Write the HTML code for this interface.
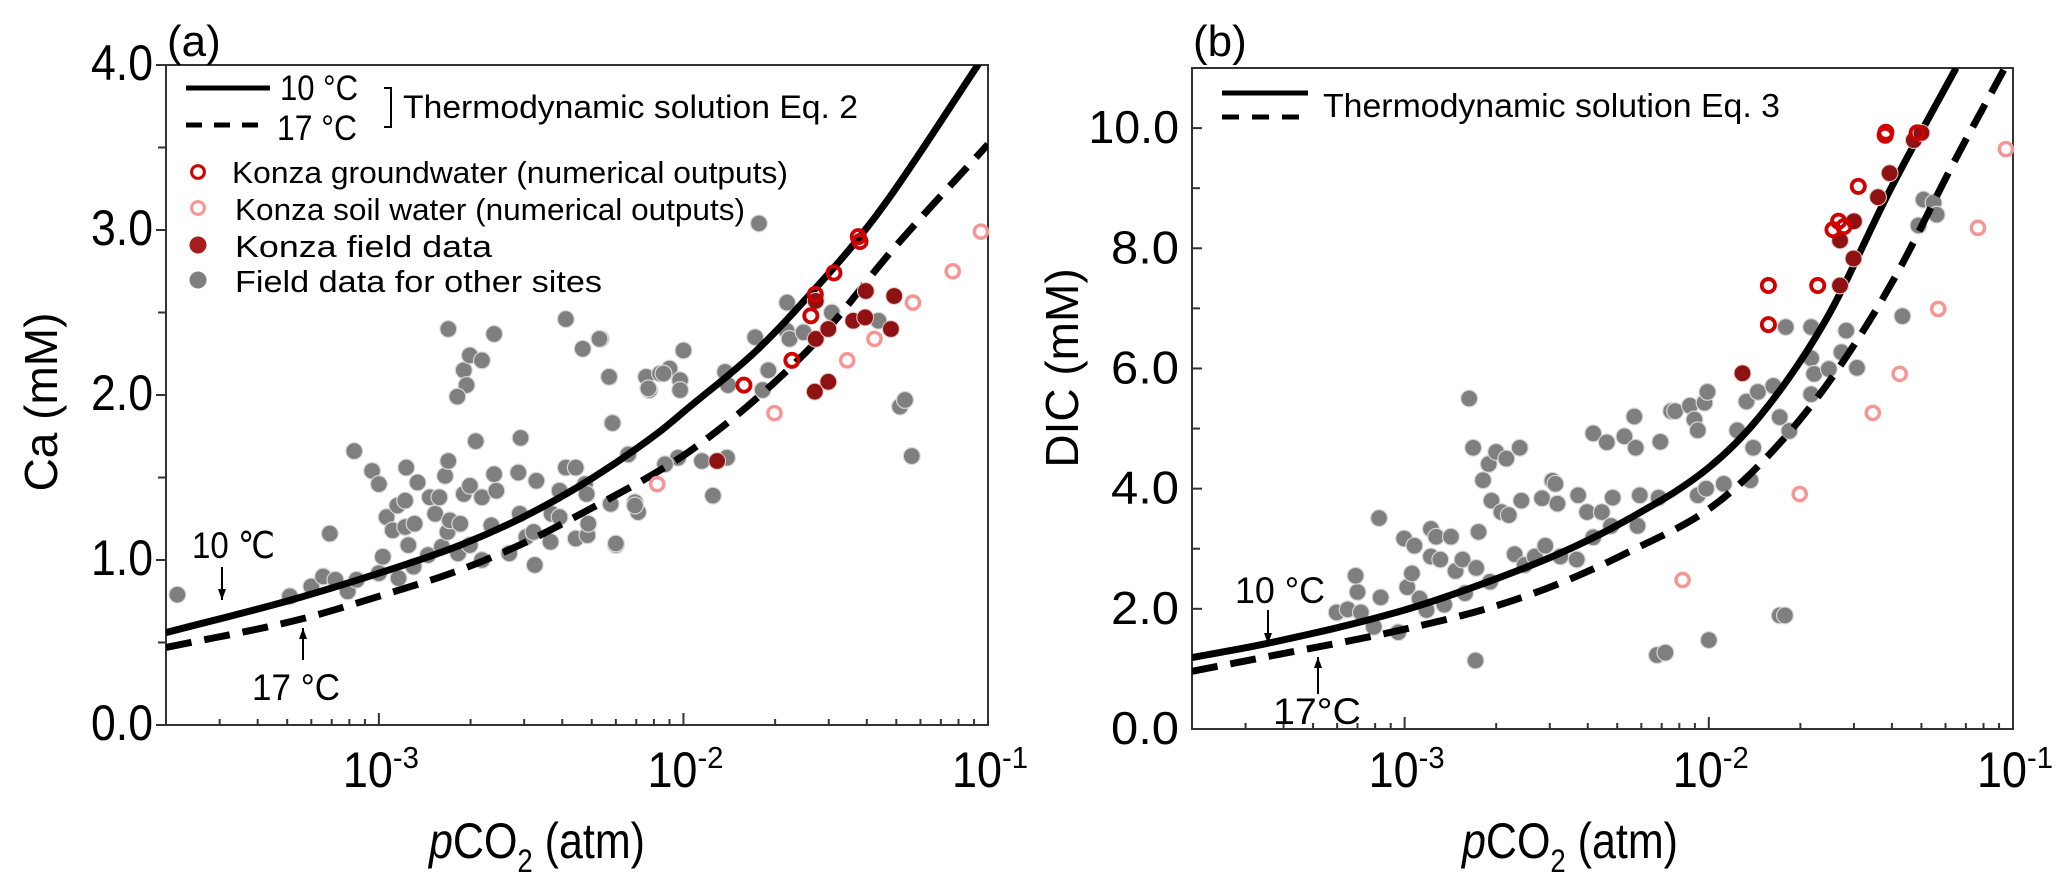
<!DOCTYPE html>
<html><head><meta charset="utf-8"><style>
html,body{margin:0;padding:0;background:#fff}
svg{display:block;font-family:"Liberation Sans",Arial,sans-serif}
</style></head><body>
<svg id="fig" width="2067" height="877" viewBox="0 0 2067 877" xmlns="http://www.w3.org/2000/svg">
<defs>
<clipPath id="clipA"><rect x="166" y="65" width="822" height="660"/></clipPath>
<clipPath id="clipB"><rect x="1192" y="68" width="821" height="661"/></clipPath>
</defs>
<g id="panelA"></g>
<g id="panelB"></g>
</svg>
<script>
// ---------- Panel (a) data ----------
const aCurve10P  = [2.0e-4,5.2e-4,1e-3,1.85e-3,3.05e-3,5.06e-3,8.38e-3,1.05e-2,1.74e-2,2.88e-2,3.8e-2,4.76e-2,9.5e-2];
const aCurve10Ca = [0.56,0.76,0.92,1.09,1.27,1.50,1.78,1.93,2.27,2.70,2.96,3.20,4.03];
const aCurve17P  = [2.0e-4,5.5e-4,1e-3,1.85e-3,3.05e-3,5.06e-3,7.96e-3,1.05e-2,1.74e-2,2.88e-2,4.76e-2,0.1];
const aCurve17Ca = [0.47,0.64,0.78,0.94,1.11,1.32,1.52,1.66,1.98,2.37,2.86,3.52];
const aGreyP  = [2.18e-4,5.1e-4,6.0e-4,6.56e-4,7.2e-4,6.9e-4,7.9e-4,8.45e-4,8.3e-4,9.5e-4,1e-3,1.0e-3,1.03e-3,1.06e-3,1.11e-3,1.15e-3,1.16e-3,1.22e-3,1.23e-3,1.25e-3,1.22e-3,1.30e-3,1.31e-3,1.34e-3,1.45e-3,1.47e-3,1.53e-3,1.58e-3,1.61e-3,1.65e-3,1.69e-3,1.69e-3,1.68e-3,1.71e-3,1.82e-3,1.85e-3,1.90e-3,1.99e-3,1.94e-3,1.81e-3,2.18e-3,2.39e-3,1.90e-3,1.99e-3,2.08e-3,1.99e-3,2.18e-3,2.18e-3,2.34e-3,2.39e-3,2.43e-3,2.68e-3,2.87e-3,2.92e-3,2.90e-3,3.05e-3,3.25e-3,3.29e-3,3.22e-3,3.66e-3,3.69e-3,3.92e-3,3.92e-3,4.11e-3,4.11e-3,4.43e-3,4.43e-3,4.67e-3,4.75e-3,4.81e-3,4.84e-3,4.87e-3,5.35e-3,5.71e-3,5.84e-3,5.77e-3,6.0e-3,6.59e-3,6.93e-3,7.1e-3,7.54e-3,7.73e-3,8.38e-3,1.77e-2,2.19e-2,1.72e-2,2.18e-2,2.23e-2,2.48e-2,3.07e-2,4.37e-2,5.14e-2,5.34e-2,5.62e-2,5.3e-3,1.0e-2,9.0e-3,8.6e-3,9.75e-3,7.67e-3,9.75e-3,5.7e-3,5.85e-3,6.59e-3,1.37e-2,1.40e-2,1.90e-2,1.82e-2,9.6e-3,1.15e-2,1.39e-2,1.25e-2,6.93e-3,6.0e-3,8.7e-3];
const aGreyCa = [0.79,0.78,0.84,0.90,0.88,1.16,0.81,0.88,1.66,1.54,1.46,0.92,1.02,1.26,1.18,1.33,0.89,1.20,1.56,1.09,1.36,0.96,1.22,1.47,1.03,1.38,1.28,1.38,1.08,1.51,1.60,2.40,1.17,1.24,1.04,1.22,2.15,2.24,2.06,1.99,2.21,2.37,1.40,1.45,1.72,1.09,1.38,1.00,1.21,1.52,1.42,1.04,1.53,1.74,1.28,1.14,0.97,1.48,1.17,1.11,1.28,1.26,1.42,2.46,1.56,1.56,1.13,2.28,1.46,1.40,1.15,1.22,2.34,2.11,1.83,1.34,1.09,1.64,1.35,1.29,2.11,2.03,2.13,3.04,2.56,2.35,2.39,2.34,2.38,2.50,2.45,1.93,1.97,1.63,2.34,2.27,2.16,2.13,2.09,2.04,2.03,2.11,1.83,1.64,2.14,2.06,2.15,2.03,1.62,1.60,1.62,1.39,1.33,1.10,1.58];
const aGwP  = [1.58e-2,2.27e-2,2.62e-2,2.71e-2,3.12e-2,3.75e-2,3.80e-2];
const aGwCa = [2.06,2.21,2.48,2.61,2.74,2.96,2.93];
const aSoilP  = [8.2e-3,1.99e-2,3.45e-2,4.24e-2,5.67e-2,7.66e-2,9.48e-2];
const aSoilCa = [1.46,1.89,2.21,2.34,2.56,2.75,2.99];
const aFieldP  = [1.29e-2,2.7e-2,2.99e-2,2.72e-2,2.99e-2,3.61e-2,3.95e-2,3.97e-2,4.8e-2,4.92e-2,2.72e-2];
const aFieldCa = [1.60,2.02,2.08,2.34,2.40,2.45,2.47,2.63,2.40,2.60,2.57];
const aYTicks = [0,1,2,3,4];
const aYLabels = ["0.0","1.0","2.0","3.0","4.0"];

// ---------- Panel (b) data ----------
const bCurve10P   = [2.0e-4,3.5e-4,1e-3,2.0e-3,3.33e-3,5.47e-3,1e-2,1.47e-2,2.42e-2,3.97e-2,6.5e-2];
const bCurve10DIC = [1.19,1.42,1.98,2.5,2.95,3.5,4.35,5.2,6.8,9.0,11.0];
const bCurve17P   = [2.0e-4,3.5e-4,1e-3,2.0e-3,3.33e-3,5.47e-3,1e-2,1.47e-2,2.42e-2,3.97e-2,6.5e-2,9.4e-2];
const bCurve17DIC = [0.96,1.2,1.66,2.05,2.45,2.95,3.66,4.4,5.7,7.4,9.5,11.0];
const bGreyP   = [5.98e-4,6.5e-4,7.0e-4,7.18e-4,6.9e-4,7.92e-4,8.34e-4,8.24e-4,9.53e-4,9.96e-4,1.02e-3,1.057e-3,1.077e-3,1.12e-3,1.18e-3,1.22e-3,1.22e-3,1.27e-3,1.31e-3,1.35e-3,1.42e-3,1.47e-3,1.55e-3,1.58e-3,1.63e-3,1.68e-3,1.71e-3,1.72e-3,1.75e-3,1.81e-3,1.89e-3,1.91e-3,1.93e-3,2.0e-3,2.08e-3,2.16e-3,2.20e-3,2.30e-3,2.39e-3,2.42e-3,2.48e-3,2.68e-3,2.83e-3,2.90e-3,3.06e-3,3.13e-3,3.18e-3,3.25e-3,3.68e-3,3.72e-3,3.98e-3,4.17e-3,4.17e-3,4.45e-3,4.62e-3,4.77e-3,4.83e-3,5.28e-3,5.69e-3,5.75e-3,5.83e-3,5.93e-3,6.84e-3,6.93e-3,7.52e-3,7.75e-3,8.67e-3,8.97e-3,9.2e-3,9.2e-3,9.68e-3,9.9e-3,9.8e-3,1.0e-2,6.75e-3,7.2e-3,1.12e-2,1.24e-2,1.33e-2,1.37e-2,1.40e-2,1.45e-2,1.63e-2,1.71e-2,1.71e-2,1.78e-2,1.79e-2,1.84e-2,2.17e-2,2.17e-2,2.17e-2,2.22e-2,2.48e-2,2.83e-2,2.73e-2,3.07e-2,4.33e-2,4.89e-2,5.08e-2,5.48e-2,5.61e-2];
const bGreyDIC = [1.94,1.99,2.28,1.94,2.55,1.70,2.19,3.51,1.61,3.17,2.36,2.59,3.05,2.17,1.98,3.33,2.87,3.20,2.82,2.07,3.20,2.63,2.82,2.26,5.50,4.68,1.14,2.68,3.28,4.14,4.41,2.45,3.80,4.61,3.61,4.50,3.56,2.91,4.68,3.80,2.73,2.87,3.84,3.05,4.13,4.08,3.75,2.87,2.82,3.89,3.61,4.92,3.19,3.61,4.77,3.38,3.85,4.87,5.20,4.68,3.38,3.89,3.85,4.78,5.29,5.29,5.38,5.15,4.97,3.89,5.43,5.61,4.0,1.48,1.23,1.27,4.08,4.97,5.45,4.14,4.68,5.61,5.71,5.19,1.89,1.89,6.69,4.96,6.69,5.57,6.17,5.91,5.99,6.63,6.27,6.01,6.87,8.38,8.81,8.76,8.56];
const bGwP   = [1.57e-2,1.57e-2,2.28e-2,2.56e-2,2.67e-2,2.78e-2,3.1e-2,3.82e-2,3.8e-2,4.84e-2];
const bGwDIC = [7.38,6.73,7.38,8.31,8.45,8.36,9.03,9.93,9.88,9.92];
const bSoilP   = [8.2e-3,1.99e-2,3.46e-2,4.24e-2,5.68e-2,7.67e-2,9.48e-2];
const bSoilDIC = [2.48,3.91,5.26,5.91,6.99,8.34,9.65];
const bFieldP   = [1.29e-2,2.7e-2,2.7e-2,2.99e-2,3.0e-2,3.6e-2,3.93e-2,4.72e-2,5.0e-2];
const bFieldDIC = [5.92,7.38,8.13,7.83,8.45,8.85,9.25,9.80,9.92];
const bYTicks  = [0,2,4,6,8,10];
const bYLabels = ["0.0","2.0","4.0","6.0","8.0","10.0"];

const xTickExps = [-3,-2,-1];

const NS = "http://www.w3.org/2000/svg";
function mk(parent, tag, attrs, text){
  const e = document.createElementNS(NS, tag);
  for (const k in attrs) e.setAttribute(k, attrs[k]);
  if (text !== undefined) e.textContent = text;
  parent.appendChild(e);
  return e;
}
function makeAxes(L, R, T, B, yMax){
  const lx0 = Math.log10(2e-4), lx1 = -1;
  return {
    x: p => L + (Math.log10(p) - lx0) / (lx1 - lx0) * (R - L),
    y: v => B - v / yMax * (B - T)
  };
}
function pathThrough(xs, ys){
  // monotone cubic (Fritsch-Carlson)
  const n = xs.length, d = [], m = new Array(n);
  for (let i = 0; i < n-1; i++) d.push((ys[i+1]-ys[i])/(xs[i+1]-xs[i]));
  m[0] = d[0]; m[n-1] = d[n-2];
  for (let i = 1; i < n-1; i++) m[i] = (d[i-1]*d[i] <= 0) ? 0 : (d[i-1]+d[i])/2;
  for (let i = 0; i < n-1; i++){
    if (d[i] === 0){ m[i]=0; m[i+1]=0; continue; }
    const a = m[i]/d[i], b = m[i+1]/d[i], s = a*a+b*b;
    if (s > 9){ const t = 3/Math.sqrt(s); m[i]=t*a*d[i]; m[i+1]=t*b*d[i]; }
  }
  let p = "M" + xs[0].toFixed(1) + "," + ys[0].toFixed(1);
  for (let i = 0; i < n-1; i++){
    const h = xs[i+1]-xs[i];
    p += " C" + (xs[i]+h/3).toFixed(1)+","+(ys[i]+m[i]*h/3).toFixed(1)+" "+(xs[i+1]-h/3).toFixed(1)+","+(ys[i+1]-m[i+1]*h/3).toFixed(1)+" "+xs[i+1].toFixed(1)+","+ys[i+1].toFixed(1);
  }
  return p;
}
function drawCurve(g, ax, ps, vs, dashed, clip, name){
  const d = pathThrough(ps.map(ax.x), vs.map(ax.y));
  const p = mk(g, "path", {d:d, fill:"none", stroke:"#000", "stroke-width":7, "clip-path":"url(#"+clip+")"});
  if (dashed) p.setAttribute("stroke-dasharray","26 13");
  
  
}
function drawPoints(g, ax, ps, vs, kind, name){
  for (let i = 0; i < ps.length; i++){
    const cx = ax.x(ps[i]), cy = ax.y(vs[i]);
    let c;
    if (kind === "grey") c = mk(g,"circle",{cx:cx,cy:cy,r:8.4,fill:"#7f7f7f",stroke:"#d8d8d8","stroke-width":1.2});
    else if (kind === "field") c = mk(g,"circle",{cx:cx,cy:cy,r:8.4,fill:"#8e1212",stroke:"#e8c8c8","stroke-width":1});
    else if (kind === "gw") c = mk(g,"circle",{cx:cx,cy:cy,r:6.6,fill:"none",stroke:"#d00000","stroke-width":3.8});
    else c = mk(g,"circle",{cx:cx,cy:cy,r:6.6,fill:"none",stroke:"#f79494","stroke-width":3.4});
    
    
  }
}
function drawFrame(g, L, R, T, B, ax, yTicks, yLabels, yMinorStep, yMax, yOut, ylabFont, ylabW){
  const f = mk(g,"rect",{x:L,y:T,width:R-L,height:B-T,fill:"none",stroke:"#333","stroke-width":2});
  
  
  for (let v = 0; v <= yMax + 1e-9; v += yMinorStep){
    const y = ax.y(v);
    const major = yTicks.some(t => Math.abs(t - v) < 1e-6);
    const len = major ? 10 : 8;
    const t = mk(g,"line",{x1:L,x2:yOut?L-len:L+len,y1:y,y2:y,stroke:"#333","stroke-width":2});
    
    
  }
  yTicks.forEach((v,i) => {
    const t = mk(g,"text",{x:L-13,y:ax.y(v)+15,"text-anchor":"end","font-size":ylabFont,textLength:ylabW*yLabels[i].length/3,lengthAdjust:"spacingAndGlyphs"},yLabels[i]);
    
    
  });
  for (let e = -4; e <= -1; e++){
    for (let m = 1; m <= 9; m++){
      const p = m * Math.pow(10,e);
      if (p < 1.999e-4 || p > 0.1001) continue;
      const x = ax.x(p);
      const len = m === 1 ? 12 : 6;
      const t = mk(g,"line",{x1:x,x2:x,y1:B,y2:B-len,stroke:"#333","stroke-width":2});
      
      
    }
  }
  xTickExps.forEach(e => {
    const x = ax.x(Math.pow(10,e));
    const t = mk(g,"text",{x:x-36,y:787,"font-size":50,textLength:50,lengthAdjust:"spacingAndGlyphs"},"10");
    
    
    const s = mk(g,"text",{x:x+14,y:768,"font-size":31,textLength:String(e).length*13,lengthAdjust:"spacingAndGlyphs"},String(e));
    
    
  });
}
function xTitle(g, x, name){
  const t = mk(g,"text",{x:0,y:0,"font-size":50,transform:"translate("+x+",858) scale(0.86,1)"});
  mk(t,"tspan",{"font-style":"italic"},"p");
  mk(t,"tspan",{},"CO");
  mk(t,"tspan",{"font-size":32,dy:14},"2");
  mk(t,"tspan",{dy:-14},"\u00a0(atm)");
  
  
}
function txt(g, x, y, size, s, name, w){
  const a = {x:x,y:y,"font-size":size};
  if (w){ a.textLength = w; a.lengthAdjust = "spacingAndGlyphs"; }
  const t = mk(g,"text",a,s);
  
  
  return t;
}
function arrow(g, x, y1, y2, name){
  const grp = mk(g,"g",{});
  
  
  mk(grp,"line",{x1:x,x2:x,y1:y1,y2:y2,stroke:"#000","stroke-width":2});
  const dir = y2 > y1 ? 1 : -1;
  mk(grp,"path",{d:"M"+(x-4)+","+(y2-dir*11)+" L"+x+","+y2+" L"+(x+4)+","+(y2-dir*11)+" Z",fill:"#000"});
}

// ===== Panel A =====
(function(){
  const g = document.getElementById("panelA");
  const L=166,R=988,T=65,B=725;
  const ax = makeAxes(L,R,T,B,4);
  drawFrame(g,L,R,T,B,ax,aYTicks,aYLabels,0.5,4,true,50,62);
  drawPoints(g,ax,aGreyP,aGreyCa,"grey","grey-point-other-sites");
  drawCurve(g,ax,aCurve10P,aCurve10Ca,false,"clipA","curve-10c");
  drawCurve(g,ax,aCurve17P,aCurve17Ca,true,"clipA","curve-17c");
  drawPoints(g,ax,aSoilP,aSoilCa,"soil","soil-water-point");
  drawPoints(g,ax,aFieldP,aFieldCa,"field","konza-field-point");
  drawPoints(g,ax,aGwP,aGwCa,"gw","groundwater-point");
  txt(g,167,56,44,"(a)","panel-label-a");
  const yt = mk(g,"text",{x:0,y:0,"font-size":46,"text-anchor":"middle",transform:"translate(57,402) rotate(-90)"},"Ca (mM)");
  
  
  xTitle(g,429,"x-axis-title-a");
  const lg = mk(g,"g",{});
  
  
  mk(lg,"line",{x1:186,x2:270,y1:88,y2:88,stroke:"#000","stroke-width":5});
  mk(lg,"line",{x1:186,x2:270,y1:125,y2:125,stroke:"#000","stroke-width":5,"stroke-dasharray":"16 12"});
  txt(lg,280,100,35,"10 °C","legend-10c",78);
  txt(lg,277,140,35,"17 °C","legend-17c",80);
  mk(lg,"path",{d:"M384,88 H391 V127 H384",fill:"none",stroke:"#000","stroke-width":2});
  txt(lg,403,118,32,"Thermodynamic solution Eq. 2","legend-thermo-eq2",455);
  mk(lg,"circle",{cx:198,cy:172,r:6.4,fill:"none",stroke:"#d00000","stroke-width":3});
  txt(lg,232,183,31,"Konza groundwater (numerical outputs)","legend-groundwater",556);
  mk(lg,"circle",{cx:198,cy:208,r:6.4,fill:"none",stroke:"#f79494","stroke-width":3});
  txt(lg,235,220,31,"Konza soil water (numerical outputs)","legend-soil-water",510);
  mk(lg,"circle",{cx:198,cy:245,r:8.5,fill:"#a51d1d"});
  txt(lg,235,257,31,"Konza field data","legend-field-data",257);
  mk(lg,"circle",{cx:198,cy:280,r:8.5,fill:"#7f7f7f"});
  txt(lg,235,292,31,"Field data for other sites","legend-other-sites",367);
  txt(g,192,558,37,"10 ℃","annotation-10c",83);
  arrow(g,222,567,600,"arrow-10c");
  txt(g,252,700,37,"17 °C","annotation-17c",88);
  arrow(g,303,660,628,"arrow-17c");
})();

// ===== Panel B =====
(function(){
  const g = document.getElementById("panelB");
  const L=1192,R=2013,T=68,B=729;
  const ax = makeAxes(L,R,T,B,11);
  drawFrame(g,L,R,T,B,ax,bYTicks,bYLabels,1,11,false,46,68);
  drawPoints(g,ax,bGreyP,bGreyDIC,"grey","grey-point-other-sites");
  drawCurve(g,ax,bCurve10P,bCurve10DIC,false,"clipB","curve-10c");
  drawCurve(g,ax,bCurve17P,bCurve17DIC,true,"clipB","curve-17c");
  drawPoints(g,ax,bSoilP,bSoilDIC,"soil","soil-water-point");
  drawPoints(g,ax,bFieldP,bFieldDIC,"field","konza-field-point");
  drawPoints(g,ax,bGwP,bGwDIC,"gw","groundwater-point");
  txt(g,1193,56,44,"(b)","panel-label-b");
  const yt = mk(g,"text",{x:0,y:0,"font-size":46,"text-anchor":"middle",transform:"translate(1078,368) rotate(-90)"},"DIC (mM)");
  
  
  xTitle(g,1462,"x-axis-title-b");
  const lg = mk(g,"g",{});
  
  
  mk(lg,"line",{x1:1222,x2:1308,y1:93,y2:93,stroke:"#000","stroke-width":5});
  mk(lg,"line",{x1:1222,x2:1308,y1:117,y2:117,stroke:"#000","stroke-width":5,"stroke-dasharray":"17 13"});
  txt(lg,1323,117,33,"Thermodynamic solution Eq. 3","legend-thermo-eq3",457);
  txt(g,1235,603,37,"10 °C","annotation-10c",90);
  arrow(g,1268,610,644,"arrow-10c");
  txt(g,1273,724,37,"17°C","annotation-17c",88);
  arrow(g,1318,694,657,"arrow-17c");
})();
</script>
</body></html>
